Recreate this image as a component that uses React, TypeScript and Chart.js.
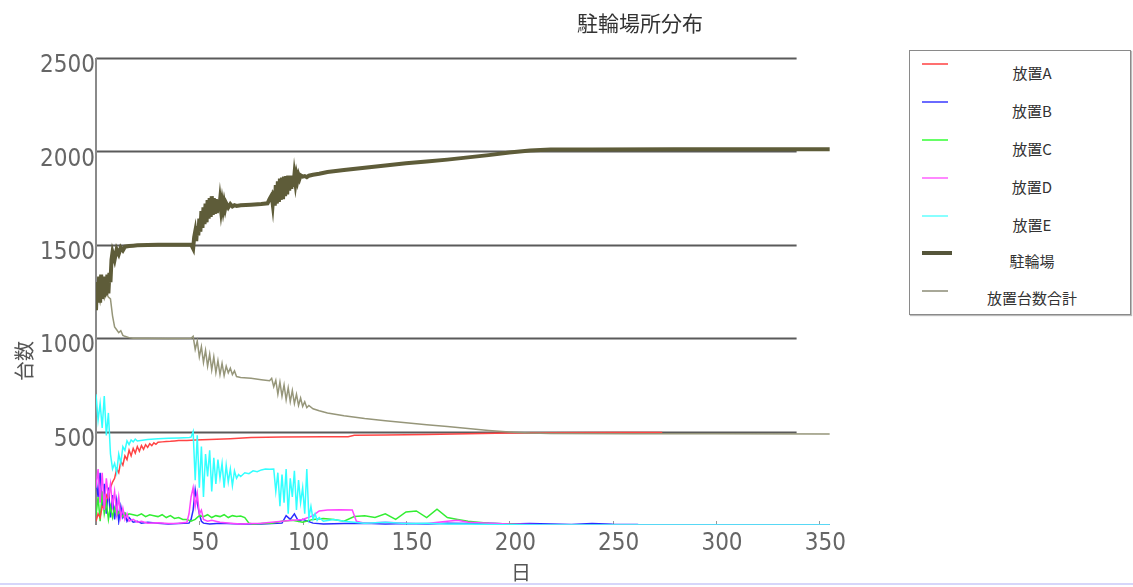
import React, { useEffect, useRef } from "react";
import { Chart, registerables } from "chart.js";

Chart.register(...registerables);

const chartTitle = "駐輪場所分布";
const xAxisTitle = "日";
const yAxisTitle = "台数";
const xTickValues = [50, 100, 150, 200, 250, 300, 350];
const yTickValues = [500, 1000, 1500, 2000, 2500];
const seriesNames = ["放置A", "放置B", "放置C", "放置D", "放置E", "駐輪場", "放置台数合計"];
const seriesColors = ["#ff4444", "#2a2aff", "#33ee33", "#ff44ff", "#33ffff", "#5e5c39", "#96967a"];
const legendColors = ["#ff7070", "#6a6aff", "#66ff66", "#ff88ff", "#88ffff", "#55553a", "#a8a898"];

const placedA: [number, number][] = [
  [0, 20], [1, 60], [2, 40], [3, 100], [4, 90], [5, 160], [6, 140], [7, 200], [8, 230], [9, 250],
  [10, 300], [11, 280], [12, 340], [13, 320], [14, 370], [15, 350], [16, 400], [17, 370], [18, 410],
  [19, 385], [20, 420], [21, 395], [22, 425], [23, 405], [24, 430], [25, 415], [26, 435], [27, 425],
  [28, 440], [29, 432], [30, 443], [32, 445], [34, 447], [36, 448], [38, 450], [40, 452], [44, 453],
  [48, 455], [55, 458], [65, 462], [75, 468], [90, 471], [110, 472], [122, 473], [125, 480],
  [140, 482], [160, 485], [180, 488], [200, 492], [220, 494], [250, 495], [274, 495],
];

const placedB: [number, number][] = [
  [0, 250], [1, 150], [2, 280], [3, 100], [4, 220], [5, 60], [6, 200], [7, 40], [8, 160], [9, 30],
  [10, 130], [11, 20], [12, 100], [13, 40], [14, 60], [15, 20], [16, 40], [18, 15], [20, 20], [22, 10],
  [25, 15], [30, 10], [35, 5], [40, 8], [45, 10], [46, 30], [47, 80], [48, 190], [49, 120], [50, 60],
  [51, 20], [52, 10], [55, 5], [60, 10], [70, 5], [80, 5], [90, 10], [92, 50], [94, 30], [96, 60],
  [98, 20], [100, 30], [105, 10], [110, 5], [120, 8], [130, 10], [140, 5], [150, 8], [160, 5],
  [170, 10], [180, 8], [190, 10], [200, 5], [210, 8], [220, 5], [230, 3], [240, 8], [250, 4],
  [262, 3], [263, 0], [355, 0],
];

const placedC: [number, number][] = [
  [0, 50], [1, 150], [2, 20], [3, 180], [4, 60], [5, 120], [6, 30], [7, 100], [8, 40], [9, 90],
  [10, 50], [11, 70], [12, 60], [13, 45], [14, 65], [15, 50], [16, 60], [18, 55], [20, 50], [22, 60],
  [24, 45], [26, 55], [28, 50], [30, 45], [32, 55], [34, 40], [36, 50], [38, 35], [40, 40], [42, 30],
  [44, 30], [46, 20], [48, 30], [50, 50], [52, 45], [54, 55], [56, 40], [58, 50], [60, 45], [62, 55],
  [64, 40], [66, 50], [68, 45], [70, 48], [72, 40], [74, 10], [76, 5], [80, 8], [85, 10], [90, 20],
  [95, 25], [100, 15], [105, 30], [110, 35], [115, 30], [120, 20], [125, 45], [130, 50], [135, 40],
  [140, 60], [145, 30], [150, 70], [155, 75], [160, 40], [165, 85], [170, 40], [175, 30], [180, 20],
  [190, 10], [200, 5], [210, 0], [355, 0],
];

const placedD: [number, number][] = [
  [0, 200], [1, 300], [2, 120], [3, 280], [4, 80], [5, 250], [6, 150], [7, 220], [8, 100], [9, 180],
  [10, 60], [11, 150], [12, 40], [13, 90], [14, 30], [15, 60], [16, 20], [18, 30], [20, 15], [22, 20],
  [25, 10], [30, 12], [35, 8], [40, 10], [44, 15], [45, 60], [46, 150], [47, 200], [48, 100],
  [49, 170], [50, 60], [51, 80], [52, 30], [54, 20], [56, 25], [60, 15], [65, 10], [70, 5], [75, 8],
  [80, 10], [85, 15], [90, 20], [95, 25], [100, 30], [105, 50], [108, 75], [112, 80], [118, 82],
  [124, 80], [126, 20], [130, 10], [140, 15], [150, 10], [160, 8], [170, 20], [175, 25], [180, 15],
  [190, 10], [200, 5], [210, 3], [220, 0], [355, 0],
];

const placedE: [number, number][] = [
  [0, 700], [1, 560], [2, 650], [3, 520], [4, 690], [5, 480], [6, 600], [7, 380], [8, 300], [9, 330],
  [10, 280], [11, 380], [12, 330], [13, 420], [14, 400], [15, 450], [16, 430], [17, 455], [18, 445],
  [19, 460], [20, 450], [25, 458], [30, 462], [35, 465], [40, 466], [45, 468], [46, 470], [47, 500],
  [48, 240], [49, 480], [50, 200], [51, 420], [52, 150], [53, 380], [54, 260], [55, 400], [56, 180],
  [57, 360], [58, 220], [59, 350], [60, 250], [61, 330], [62, 200], [63, 320], [64, 230], [65, 300],
  [66, 210], [67, 290], [68, 250], [69, 270], [70, 260], [72, 280], [74, 275], [76, 290], [78, 285],
  [80, 295], [82, 300], [84, 298], [86, 300], [87, 180], [88, 280], [89, 100], [90, 270], [91, 120],
  [92, 300], [93, 60], [94, 250], [95, 150], [96, 290], [97, 80], [98, 240], [99, 120], [100, 200],
  [101, 60], [102, 300], [103, 40], [104, 100], [105, 30], [106, 60], [107, 25], [108, 40], [110, 20],
  [115, 30], [120, 20], [125, 15], [130, 10], [140, 15], [150, 8], [160, 10], [170, 5], [180, 5],
  [190, 3], [200, 2], [220, 0], [355, 0],
];

const parking: [number, number][] = [
  [0, 1150], [0.5, 1300], [1, 1200], [1.5, 1330], [2, 1190], [2.5, 1340], [3, 1210], [3.5, 1330],
  [4, 1220], [4.5, 1320], [5, 1230], [5.5, 1340], [6, 1240], [6.5, 1350], [7, 1300], [7.5, 1420],
  [8, 1460], [9, 1420], [10, 1475], [11, 1450], [12, 1485], [13, 1470], [14, 1490], [16, 1493],
  [18, 1495], [20, 1497], [30, 1500], [40, 1500], [46, 1502], [47, 1480], [47.5, 1540], [48, 1570],
  [48.5, 1520], [49, 1600], [49.5, 1550], [50, 1640], [50.5, 1570], [51, 1680], [51.5, 1590],
  [52, 1700], [52.5, 1610], [53, 1720], [53.5, 1620], [54, 1740], [54.5, 1640], [55, 1750],
  [55.5, 1650], [56, 1760], [56.5, 1660], [57, 1750], [57.5, 1665], [58, 1745], [58.5, 1670],
  [59, 1740], [59.5, 1680], [60, 1735], [60.5, 1685], [61, 1728], [61.5, 1690], [62, 1725],
  [62.5, 1695], [63, 1722], [64, 1700], [65, 1718], [66, 1705], [67, 1712], [68, 1708], [70, 1712],
  [75, 1715], [80, 1718], [83, 1722], [84, 1745], [85, 1765], [85.5, 1720], [86, 1790], [86.5, 1710],
  [87, 1820], [87.5, 1720], [88, 1840], [88.5, 1730], [89, 1855], [89.5, 1740], [90, 1860],
  [90.5, 1745], [91, 1865], [91.5, 1760], [92, 1868], [92.5, 1770], [93, 1870], [93.5, 1790],
  [94, 1870], [94.5, 1800], [95, 1870], [95.5, 1810], [96, 1872], [96.5, 1830], [97, 1872],
  [97.5, 1845], [98, 1872], [98.5, 1855], [99, 1872], [100, 1865], [101, 1868], [102, 1862],
  [103, 1870], [105, 1875], [108, 1880], [112, 1890], [120, 1900], [130, 1912], [140, 1924],
  [150, 1936], [160, 1946], [170, 1956], [180, 1968], [190, 1980], [200, 1994], [210, 2005],
  [220, 2010], [240, 2010], [280, 2012], [320, 2012], [355, 2012],
];

const placedTotal: [number, number][] = [
  [0, 1200], [1, 1240], [2, 1190], [3, 1250], [4, 1210], [5, 1240], [6, 1220], [7, 1210], [8, 1120],
  [9, 1060], [10, 1045], [11, 1030], [12, 1040], [13, 1015], [14, 1010], [16, 1003], [18, 1000],
  [25, 1000], [35, 998], [46, 1000], [47, 1010], [48, 940], [49, 985], [50, 900], [51, 955], [52, 870],
  [53, 935], [54, 850], [55, 915], [56, 830], [57, 900], [58, 815], [59, 880], [60, 805], [61, 865],
  [62, 800], [63, 850], [64, 815], [65, 840], [66, 805], [67, 825], [68, 795], [70, 790], [75, 785],
  [80, 778], [84, 772], [85, 785], [86, 740], [87, 775], [88, 700], [89, 765], [90, 690], [91, 750],
  [92, 670], [93, 735], [94, 660], [95, 720], [96, 650], [97, 700], [98, 640], [99, 680], [100, 635],
  [101, 660], [102, 628], [103, 640], [105, 622], [108, 612], [112, 600], [120, 585], [130, 570],
  [140, 558], [150, 547], [160, 537], [170, 527], [180, 516], [190, 506], [200, 498], [210, 492],
  [220, 490], [260, 489], [300, 488], [355, 487],
];

const allSeries = [placedA, placedB, placedC, placedD, placedE, parking, placedTotal];
const seriesWidths = [1.5, 1.5, 1.5, 1.5, 1.5, 4, 1.5];
const seriesOrder = [4, 6, 5, 3, 2, 0, 1];
const gridEndDay = 339;

const tickFont = "'Liberation Sans Narrow', 'DejaVu Sans Condensed', 'Liberation Sans', sans-serif";
const cjkFont = "'Noto Sans CJK JP', 'Noto Sans', sans-serif";

const gridPlugin = {
  id: "customGrid",
  beforeDatasetsDraw(chart: any) {
    const { ctx, chartArea, scales } = chart;
    const xs = scales.x;
    const ys = scales.y;
    const xEnd = xs.getPixelForValue(gridEndDay);
    ctx.save();
    ctx.strokeStyle = "#5a5a5a";
    ctx.lineWidth = 2;
    for (const v of yTickValues) {
      const y = Math.round(ys.getPixelForValue(v)) + 0.5;
      ctx.beginPath();
      ctx.moveTo(chartArea.left, y);
      ctx.lineTo(xEnd, y);
      ctx.stroke();
    }
    ctx.strokeStyle = "#8a8a8a";
    ctx.lineWidth = 2;
    ctx.beginPath();
    ctx.moveTo(chartArea.left, chartArea.top);
    ctx.lineTo(chartArea.left, chartArea.bottom);
    ctx.stroke();
    ctx.strokeStyle = "#999";
    ctx.lineWidth = 1;
    for (const v of xTickValues) {
      const x = Math.round(xs.getPixelForValue(v)) + 0.5;
      ctx.beginPath();
      ctx.moveTo(x, chartArea.bottom);
      ctx.lineTo(x, chartArea.bottom - 4);
      ctx.stroke();
    }
    ctx.restore();
  },
};

export default function App() {
  const canvasRef = useRef<HTMLCanvasElement | null>(null);

  useEffect(() => {
    if (!canvasRef.current) return;
    const datasets = allSeries.map((s, i) => ({
      label: seriesNames[i],
      data: s.map(([d, v]) => ({ x: d, y: v })),
      borderColor: seriesColors[i],
      backgroundColor: seriesColors[i],
      borderWidth: seriesWidths[i],
      pointRadius: 0,
      tension: 0,
      fill: false,
      order: seriesOrder[i],
    }));
    const chart = new Chart(canvasRef.current, {
      type: "line",
      data: { datasets },
      plugins: [gridPlugin],
      options: {
        animation: false,
        responsive: false,
        maintainAspectRatio: false,
        layout: { padding: { top: 58, right: 40, left: 0, bottom: 0 } },
        plugins: {
          legend: { display: false },
          title: { display: false },
          tooltip: { enabled: false },
        },
        scales: {
          x: {
            type: "linear",
            min: 0,
            max: 360,
            afterFit: (scale: any) => {
              scale.height = 62;
            },
            afterBuildTicks: (scale: any) => {
              scale.ticks = xTickValues.map((v) => ({ value: v }));
            },
            grid: { display: false, drawTicks: false },
            border: { display: false },
            ticks: {
              autoSkip: false,
              maxRotation: 0,
              padding: 4,
              labelOffset: 6,
              color: "#666",
              font: { family: tickFont, size: 24 },
              callback: (v: any) => String(v),
            },
          },
          y: {
            type: "linear",
            min: 0,
            max: 2500,
            afterFit: (scale: any) => {
              scale.width = 96;
            },
            afterBuildTicks: (scale: any) => {
              scale.ticks = yTickValues.map((v) => ({ value: v }));
            },
            grid: { display: false, drawTicks: false },
            border: { display: false },
            ticks: {
              autoSkip: false,
              padding: 1,
              labelOffset: 8,
              color: "#666",
              font: { family: tickFont, size: 24 },
              callback: (v: any) => String(v),
            },
          },
        },
      },
    } as any);
    return () => chart.destroy();
  }, []);

  const legendLineY = [13, 51, 89, 127, 165, 202, 240];
  const legendTextY = [22, 60, 98, 136, 174, 210, 247];

  return (
    <div
      style={{
        position: "fixed",
        left: 0,
        top: 0,
        width: 1133,
        height: 587,
        background: "#fff",
        overflow: "hidden",
      }}
    >
      <canvas
        ref={canvasRef}
        width={880}
        height={587}
        style={{ position: "absolute", left: 0, top: 0, width: 880, height: 587 }}
      />
      <div
        style={{
          position: "absolute",
          left: 540,
          top: 9,
          width: 200,
          textAlign: "center",
          fontFamily: cjkFont,
          fontSize: 21,
          lineHeight: "26px",
          color: "#333",
        }}
      >
        {chartTitle}
      </div>
      <div
        style={{
          position: "absolute",
          left: 24,
          top: 361,
          transform: "translate(-50%, -50%) rotate(-90deg)",
          fontFamily: cjkFont,
          fontSize: 20,
          lineHeight: "22px",
          color: "#555",
          whiteSpace: "nowrap",
        }}
      >
        {yAxisTitle}
      </div>
      <div
        style={{
          position: "absolute",
          left: 521,
          top: 572,
          transform: "translate(-50%, -50%)",
          fontFamily: cjkFont,
          fontSize: 20,
          lineHeight: "22px",
          color: "#555",
        }}
      >
        {xAxisTitle}
      </div>
      <div
        style={{
          position: "absolute",
          left: 909,
          top: 50,
          width: 220,
          height: 263,
          border: "1.5px solid #8a8a8a",
          boxShadow: "1px 1px 1px #bbb",
          background: "#fff",
        }}
      >
        {seriesNames.map((name, i) => (
          <React.Fragment key={name}>
            <div
              style={{
                position: "absolute",
                left: 12,
                top: legendLineY[i] - (i === 5 ? 2 : 1),
                width: i === 5 ? 30 : 26,
                height: i === 5 ? 4 : 2,
                background: legendColors[i],
              }}
            />
            <div
              style={{
                position: "absolute",
                left: 62,
                width: 120,
                top: legendTextY[i] - 10,
                textAlign: "center",
                fontFamily: cjkFont,
                fontSize: 15,
                lineHeight: "20px",
                color: "#333",
                whiteSpace: "nowrap",
              }}
            >
              {name}
            </div>
          </React.Fragment>
        ))}
      </div>
      <div
        style={{
          position: "absolute",
          left: 0,
          top: 583,
          width: 1133,
          height: 2,
          background: "#d6d6fa",
        }}
      />
    </div>
  );
}
